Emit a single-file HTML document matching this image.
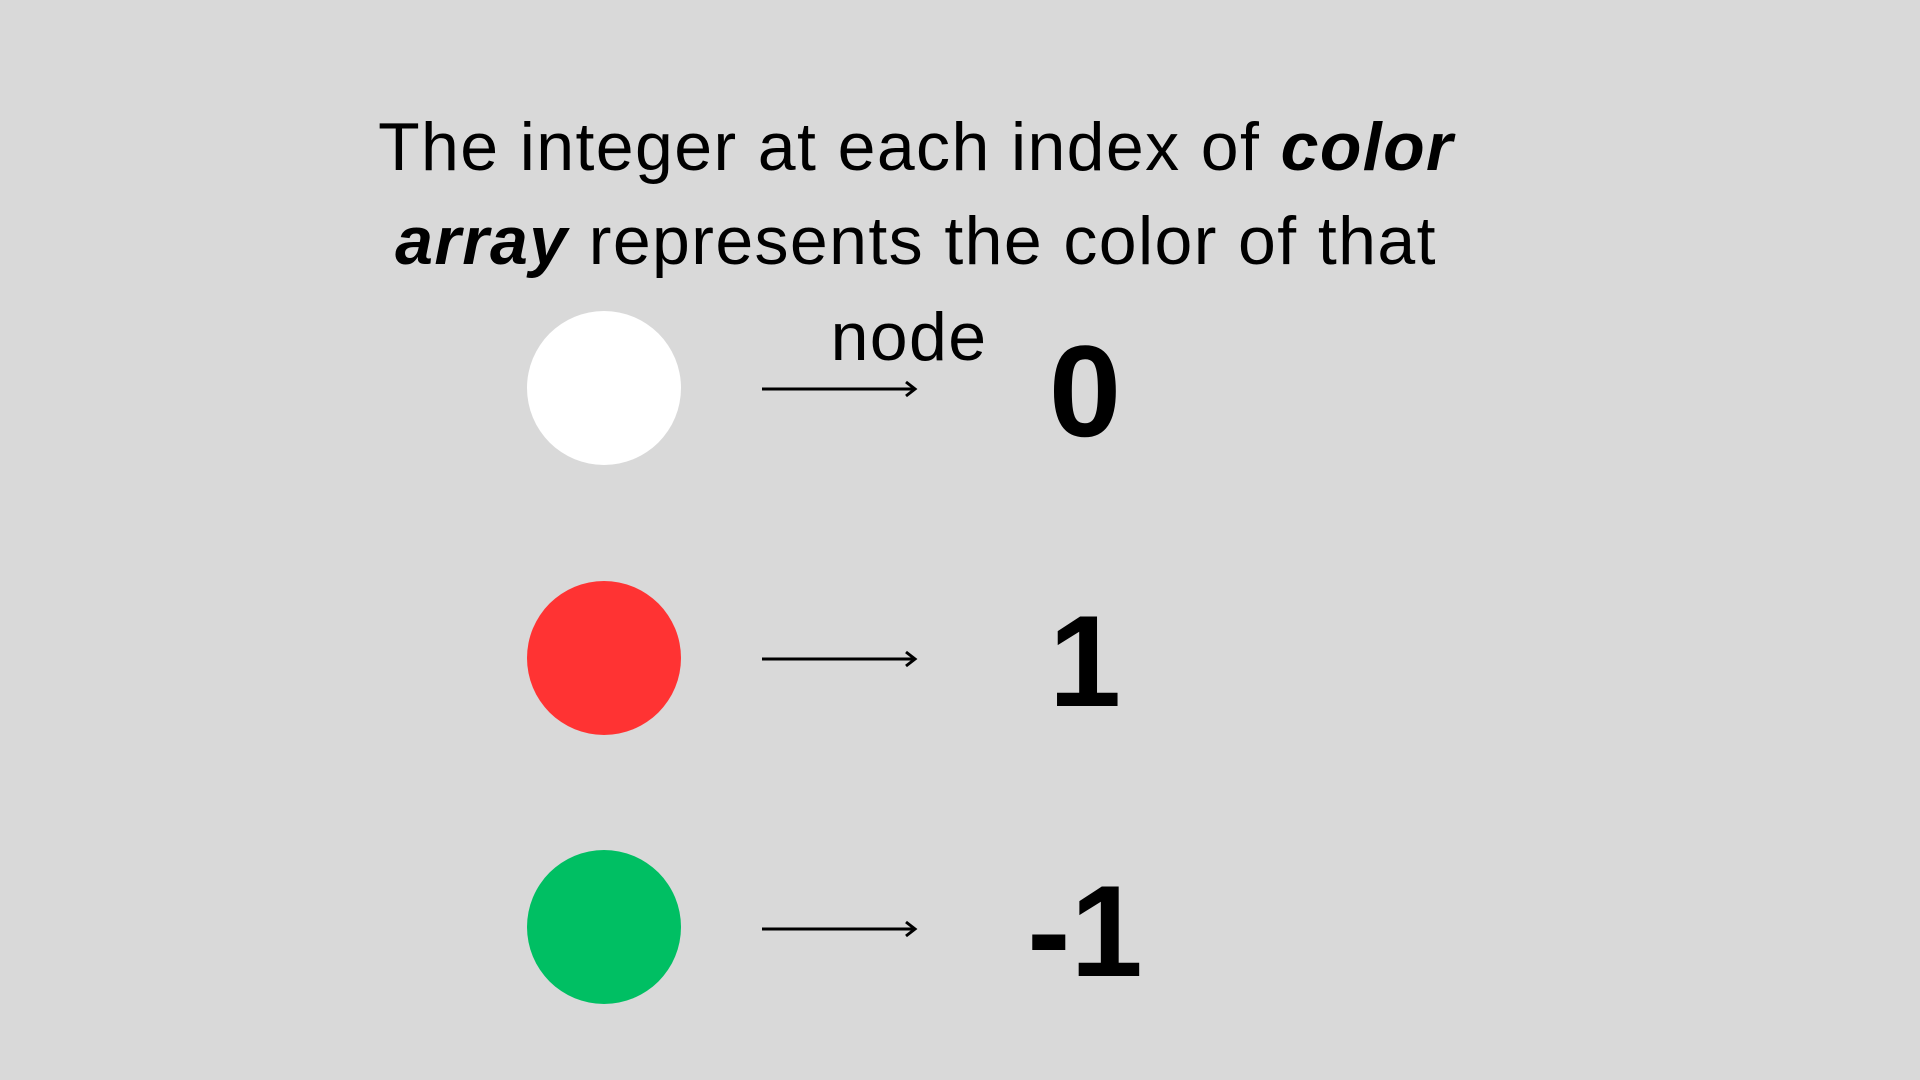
<!DOCTYPE html>
<html><head><meta charset="utf-8"><style>
html,body{margin:0;padding:0}
body{width:1920px;height:1080px;background:#d9d9d9;position:relative;overflow:hidden;font-family:"Liberation Sans",sans-serif;color:#000}
.line{position:absolute;left:0;width:1832px;text-align:center;font-size:68px;line-height:94px;white-space:nowrap;letter-spacing:1.4px}
.c{position:absolute;width:154px;height:154px;border-radius:50%}
.num{position:absolute;width:240px;text-align:center;font-weight:bold;font-size:130px;line-height:130px}
svg{position:absolute}
</style></head><body>
<div class="line" style="top:100px">The integer at each index of <b><i>color</i></b></div>
<div class="line" style="top:194px"><b><i>array</i></b> represents the color of that</div>
<div class="line" style="top:290px;width:1818px">node</div>

<div class="c" style="left:527px;top:311px;background:#fff"></div>
<div class="c" style="left:527px;top:581px;background:#ff3333"></div>
<div class="c" style="left:527px;top:850px;background:#00bf63"></div>

<svg width="1920" height="1080" style="left:0;top:0">
<g stroke="#000" stroke-width="3" fill="none">
<line x1="762" y1="389" x2="914" y2="389"/><polyline points="906,382 915,389 906,396"/>
<line x1="762" y1="659" x2="914" y2="659"/><polyline points="906,652 915,659 906,666"/>
<line x1="762" y1="929" x2="914" y2="929"/><polyline points="906,922 915,929 906,936"/>
</g></svg>

<div class="num" style="left:965px;top:326px">0</div>
<div class="num" style="left:965px;top:596px">1</div>
<div class="num" style="left:965px;top:866px">-1</div>
</body></html>
